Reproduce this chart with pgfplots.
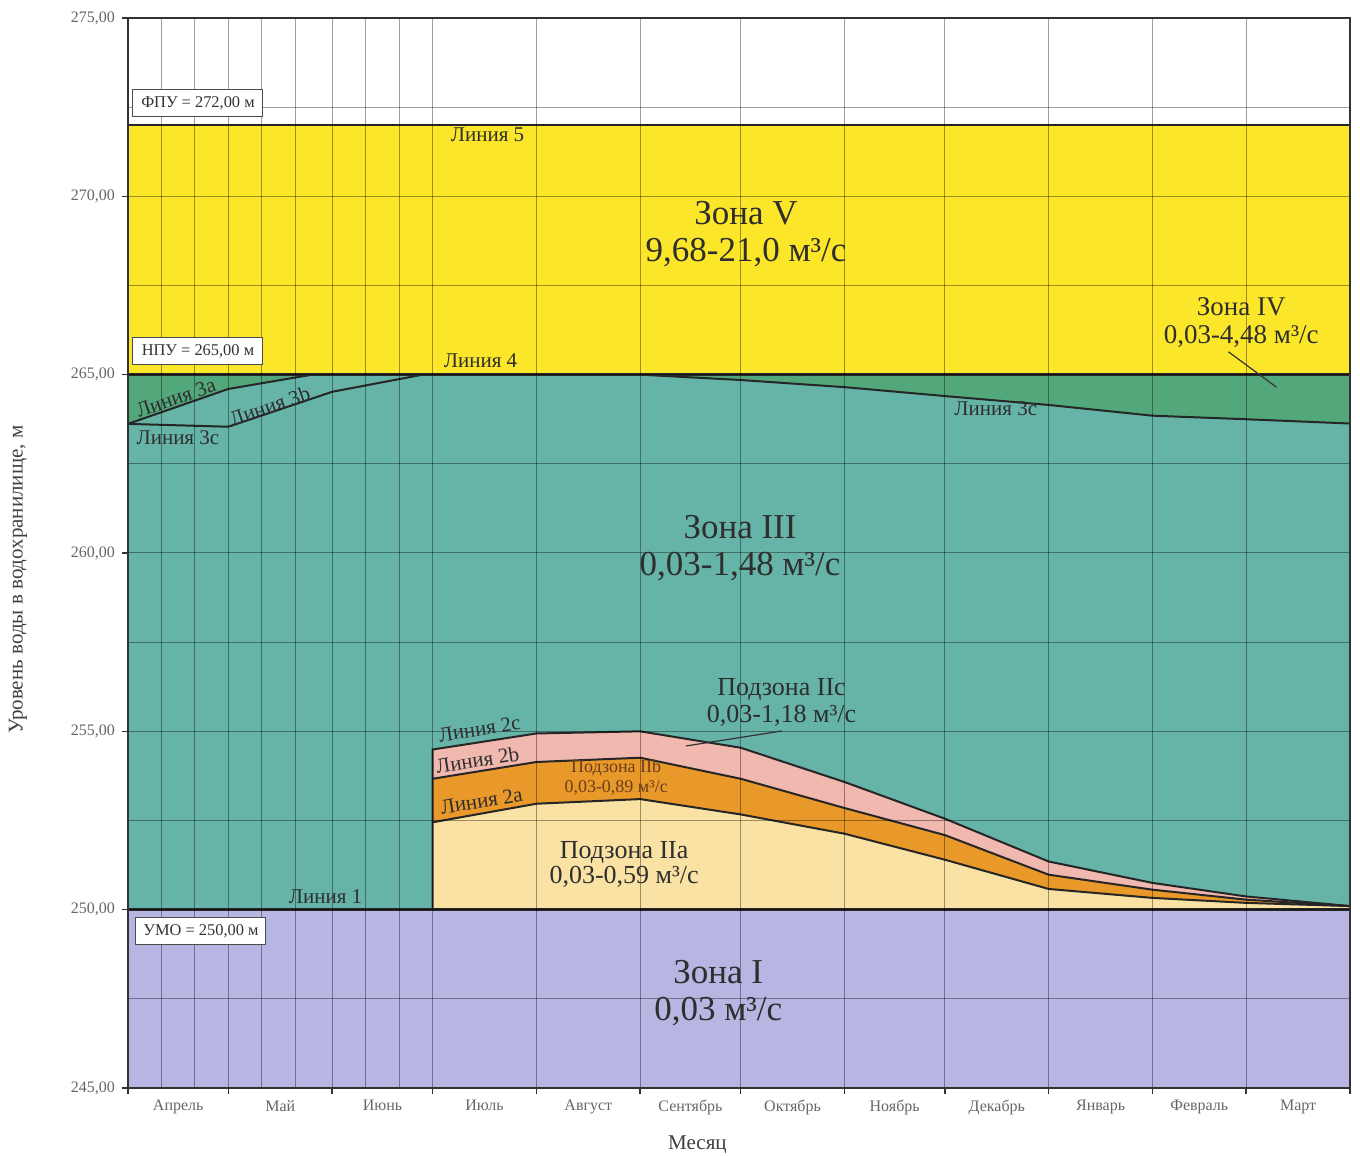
\documentclass[border=0pt]{standalone}
\usepackage{fontspec}
\setmainfont{Liberation Serif}
\usepackage{pgfplots}
\pgfplotsset{compat=1.18}
\definecolor{zoneV}{HTML}{FBE62A}
\definecolor{zoneIV}{HTML}{52A87A}
\definecolor{zoneIII}{HTML}{66B4A7}
\definecolor{zoneI}{HTML}{B7B5E2}
\definecolor{subIIa}{HTML}{FAE2A4}
\definecolor{subIIb}{HTML}{E9982A}
\definecolor{subIIc}{HTML}{F0B8AE}
\definecolor{txt}{HTML}{2E2E2E}
\definecolor{txtb}{HTML}{6A3E1A}
\begin{document}
\begin{tikzpicture}
\useasboundingbox (-64pt,-34pt) rectangle (616pt,544pt);
\begin{axis}[
  axis on top,
  at={(0,0)}, anchor=south west,
  scale only axis, width=611pt, height=535pt,
  xmin=0, xmax=365, ymin=245, ymax=275,
  xtick={0,30,61,91,122,153,183,214,244,275,306,334,365},
  xticklabels={},
  minor xtick={10,20,40,50,71,81},
  extra x ticks={15,45.5,76,106.5,137.5,168,198.5,229,259.5,290.5,320,349.5},
  extra x tick labels={Апрель,Май,Июнь,Июль,Август,Сентябрь,Октябрь,Ноябрь,Декабрь,Январь,Февраль,Март},
  extra x tick style={major tick length=0pt, grid=none, tick label style={yshift=-2.5pt}},
  ytick={245,250,...,275},
  minor ytick={247.5,252.5,...,272.5},
  grid=both,
  major grid style={black, opacity=0.38, line width=0.5pt},
  minor grid style={black, opacity=0.38, line width=0.5pt},
  tick pos=left, tick align=outside,
  major tick length=3pt, minor tick length=0pt,
  tick style={black!80, line width=0.8pt},
  axis line style={black!80, line width=0.8pt},
  yticklabel style={/pgf/number format/.cd, fixed, fixed zerofill, precision=2, use comma, assume math mode=true},
  tick label style={font=\fontsize{8}{9}\selectfont, text=black!60},
  ylabel={Уровень воды в водохранилище, м},
  ylabel style={at={(axis description cs:-0.09,0.475)}, anchor=center, font=\fontsize{10.5}{12}\selectfont, text=black!75},
  xlabel={Месяц},
  xlabel style={at={(axis description cs:0.466,-0.053)}, anchor=center, font=\fontsize{10.5}{12}\selectfont, text=black!75},
]
% ---- fills ----
\addplot[fill=zoneV, draw=none] coordinates {(0,265) (0,272) (365,272) (365,265)} -- cycle;
\addplot[fill=zoneIV, draw=none] coordinates {(0,250) (0,265) (365,265) (365,250)} -- cycle;
\addplot[fill=zoneIII, draw=none] coordinates {(0,250) (0,263.62) (30,264.6) (55,265) (153,265) (183,264.85) (214,264.65) (244,264.4) (275,264.15) (306,263.85) (334,263.75) (365,263.63) (365,250)} -- cycle;
\addplot[fill=zoneI, draw=none] coordinates {(0,245) (0,250) (365,250) (365,245)} -- cycle;
\addplot[fill=subIIc, draw=none] coordinates {(91,250) (91,254.49) (122,254.94) (153,255.0) (183,254.54) (214,253.58) (244,252.55) (275,251.35) (306,250.75) (334,250.37) (365,250.1) (365,250)} -- cycle;
\addplot[fill=subIIb, draw=none] coordinates {(91,250) (91,253.67) (122,254.14) (153,254.26) (183,253.67) (214,252.85) (244,252.09) (275,250.98) (306,250.56) (334,250.28) (365,250.1) (365,250)} -- cycle;
\addplot[fill=subIIa, draw=none] coordinates {(91,250) (91,252.45) (122,252.97) (153,253.1) (183,252.67) (214,252.13) (244,251.4) (275,250.58) (306,250.33) (334,250.19) (365,250.1) (365,250)} -- cycle;
% ---- lines ----
\addplot[black!85, line width=1.2pt] coordinates {(0,272) (365,272)};
\addplot[black!85, line width=1.2pt] coordinates {(0,265) (365,265)};
\addplot[black!85, line width=1.3pt] coordinates {(0,250) (365,250)};
\addplot[black!85, line width=1pt] coordinates {(0,263.62) (30,264.6) (55,265)};
\addplot[black!85, line width=1pt] coordinates {(30,263.54) (61,264.52) (88,265)};
\addplot[black!85, line width=1pt] coordinates {(0,263.62) (30,263.54)};
\addplot[black!85, line width=1pt] coordinates {(153,265) (183,264.85) (214,264.65) (244,264.4) (275,264.15) (306,263.85) (334,263.75) (365,263.63)};
\addplot[black!85, line width=1pt] coordinates {(91,250) (91,254.49) (122,254.94) (153,255.0) (183,254.54) (214,253.58) (244,252.55) (275,251.35) (306,250.75) (334,250.37) (365,250.1)};
\addplot[black!85, line width=1pt] coordinates {(91,253.67) (122,254.14) (153,254.26) (183,253.67) (214,252.85) (244,252.09) (275,250.98) (306,250.56) (334,250.28) (365,250.1)};
\addplot[black!85, line width=1pt] coordinates {(91,252.45) (122,252.97) (153,253.1) (183,252.67) (214,252.13) (244,251.4) (275,250.58) (306,250.33) (334,250.19) (365,250.1)};
% anchor coordinates for annotations
\coordinate (p4a) at (axis cs:328.7,265.64);
\coordinate (p4b) at (axis cs:343,264.65);
\coordinate (p2a) at (axis cs:166.7,254.59);
\coordinate (p2b) at (axis cs:195.3,255.01);
\coordinate (bF) at (axis cs:20.9,272.62);
\coordinate (bN) at (axis cs:20.9,265.66);
\coordinate (bU) at (axis cs:21.8,249.4);
\coordinate (zV) at (axis cs:184.6,268.93);
\coordinate (zIII) at (axis cs:182.8,260.15);
\coordinate (zI) at (axis cs:176.3,247.65);
\coordinate (zIV) at (axis cs:332.5,266.47);
\coordinate (zIIc) at (axis cs:195.2,255.8);
\coordinate (zIIa) at (axis cs:148.2,251.27);
\coordinate (zIIb) at (axis cs:145.8,253.7);
\coordinate (l5) at (axis cs:107.4,271.72);
\coordinate (l4) at (axis cs:105.3,265.38);
\coordinate (l3a) at (axis cs:14.3,264.35);
\coordinate (l3b) at (axis cs:42.3,264.12);
\coordinate (l3c) at (axis cs:14.9,263.23);
\coordinate (l3cr) at (axis cs:259.2,264.04);
\coordinate (l2c) at (axis cs:105,255.07);
\coordinate (l2b) at (axis cs:104.4,254.2);
\coordinate (l2a) at (axis cs:105.6,253.05);
\coordinate (l1) at (axis cs:59,250.36);
\end{axis}
% pointers
\draw[black!80, line width=0.6pt] (p4a) -- (p4b);
\draw[black!80, line width=0.6pt] (p2a) -- (p2b);
% ---- boxes ----
\tikzset{bx/.style={draw=black!70, fill=white, line width=0.5pt, minimum width=65pt, minimum height=13.5pt, inner sep=1pt, font=\fontsize{8.2}{9}\selectfont, text=black!80}}
\node[bx] at (bF) {ФПУ = 272,00 м};
\node[bx] at (bN) {НПУ = 265,00 м};
\node[bx] at (bU) {УМО = 250,00 м};
% ---- labels ----
\tikzset{big/.style={align=center, text=txt, font=\fontsize{17.5}{18.5}\selectfont, inner sep=0pt},
         med/.style={align=center, text=txt, font=\fontsize{13}{13.5}\selectfont, inner sep=0pt},
         lin/.style={text=txt, font=\fontsize{10.5}{12}\selectfont, inner sep=0pt}}
\node[big] at (zV) {Зона V\\9,68-21,0 м³/с};
\node[big] at (zIII) {Зона III\\0,03-1,48 м³/с};
\node[big] at (zI) {Зона I\\0,03 м³/с};
\node[med, font=\fontsize{13.5}{14}\selectfont] at (zIV) {Зона IV\\0,03-4,48 м³/с};
\node[med] at (zIIc) {Подзона IIc\\0,03-1,18 м³/с};
\node[med, font=\fontsize{13}{12.5}\selectfont] at (zIIa) {Подзона IIa\\0,03-0,59 м³/с};
\node[align=center, inner sep=0pt, text=txtb, font=\fontsize{9}{10}\selectfont] at (zIIb) {Подзона IIb\\0,03-0,89 м³/с};
\node[lin] at (l5) {Линия 5};
\node[lin] at (l4) {Линия 4};
\node[lin, rotate=19] at (l3a) {Линия 3a};
\node[lin, rotate=19] at (l3b) {Линия 3b};
\node[lin] at (l3c) {Линия 3c};
\node[lin] at (l3cr) {Линия 3c};
\node[lin, rotate=9] at (l2c) {Линия 2c};
\node[lin, rotate=9] at (l2b) {Линия 2b};
\node[lin, rotate=9] at (l2a) {Линия 2a};
\node[lin] at (l1) {Линия 1};
\end{tikzpicture}
\end{document}
